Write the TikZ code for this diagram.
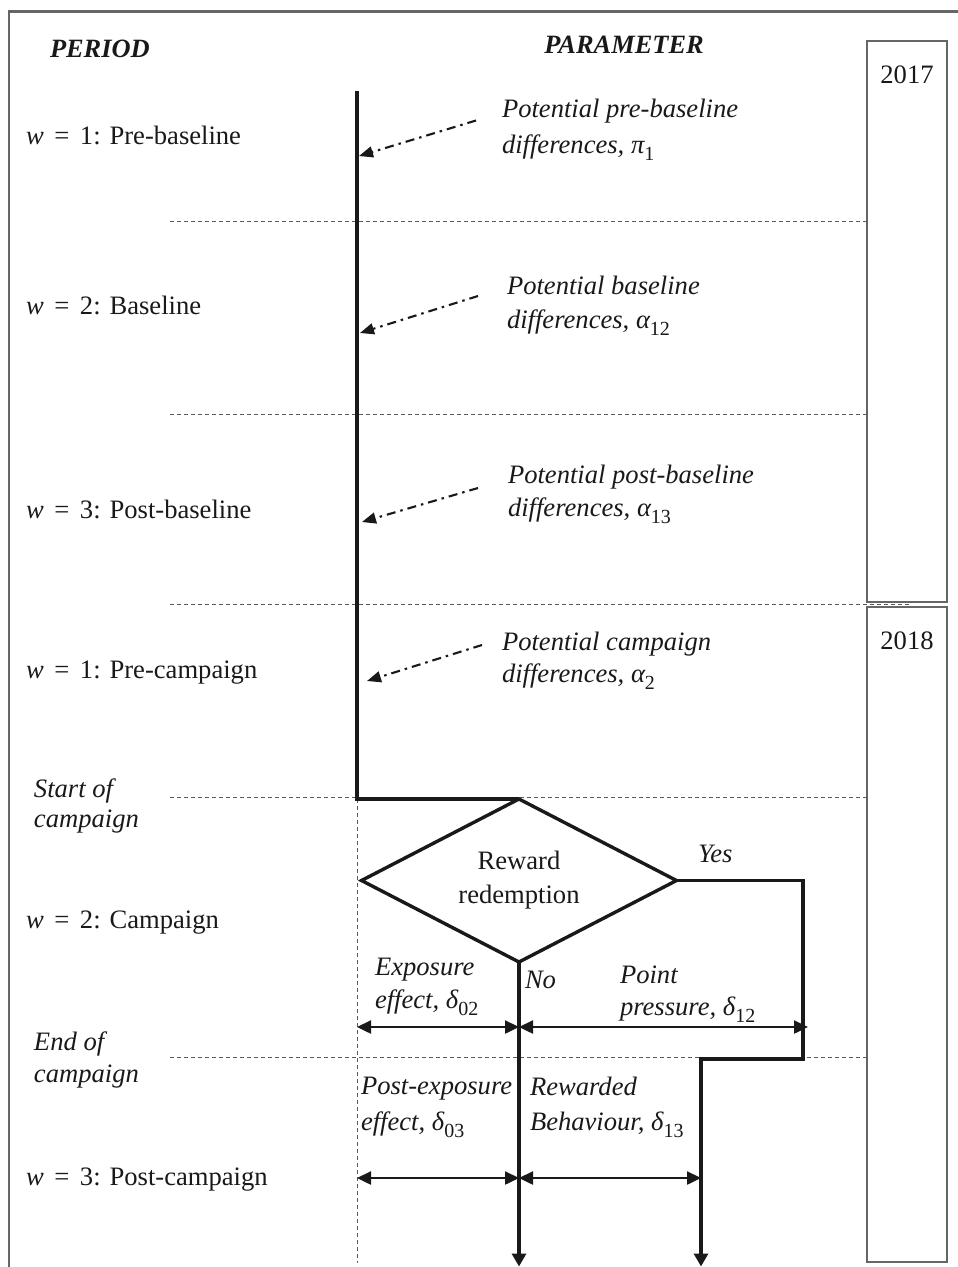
\documentclass[tikz,border=0pt]{standalone}
\usepackage{fontspec}
\setmainfont{Liberation Serif}
\usetikzlibrary{arrows.meta,shapes.geometric}
\newcommand\myeq{\hspace{0.4em}=\hspace{0.4em}}
\newcommand\sbs[1]{\raisebox{-0.3em}{\fontsize{20}{20}\selectfont\upshape #1}}
\begin{document}
\begin{tikzpicture}[x=1pt,y=-1pt,
  every node/.style={inner sep=0pt, outer sep=0pt, font=\fontsize{26.6}{34}\selectfont, text=black!90},
  lbl/.style={anchor=base west},
  itl/.style={anchor=base west, font=\fontsize{26.6}{34}\selectfont\itshape},
  hdr/.style={anchor=base west, font=\fontsize{26.4}{34}\selectfont\bfseries\itshape},
  thickline/.style={line width=3.4pt, draw=black!90, line join=miter},
  dbl/.style={line width=2.4pt, draw=black!90, {Triangle[length=14pt,width=13pt]}-{Triangle[length=14pt,width=13pt]}},
  dd/.style={line width=2.1pt, draw=black!90, dash pattern=on 9pt off 5pt on 2.5pt off 5pt, -{Triangle[length=14pt,width=11pt]}},
  grid/.style={line width=0.9pt, draw=black!65, dash pattern=on 4pt off 3pt},
  ybox/.style={draw=black!60, line width=1.6pt, minimum width=80pt},
  downtip/.style={-{Triangle[length=13pt,width=14pt]}}
]
\useasboundingbox (0,0) rectangle (958,1267);

% frame
\draw[line width=2.2pt, draw=black!60] (9,1267) -- (9,11.5) -- (958,11.5);

% headers
\node[hdr] (hperiod) at (50,57) {PERIOD};
\node[anchor=base, font=\fontsize{26.4}{34}\selectfont\bfseries\itshape] (hparam) at (624,53) {PARAMETER};

% year boxes
\node[ybox, minimum height=561pt] (box17) at (907,321.5) {};
\node[anchor=base] (y17) at (907,83) {2017};
\node[ybox, minimum height=655pt] (box18) at (907,934.5) {};
\node[anchor=base] (y18) at (907,649) {2018};

% dashed period separators
\draw[grid] (170,221) -- (867,221);
\draw[grid] (170,414) -- (867,414);
\draw[grid] (170,604.5) -- (910,604.5);
\draw[grid] (170,797.5) -- (867,797.5);
\draw[grid] (170,1057.5) -- (867,1057.5);
\draw[grid] (357,799) -- (357,1263);

% period labels
\node[lbl] (p1) at (26,144) {\textit{w}\myeq 1: Pre-baseline};
\node[lbl] (p2) at (26,314) {\textit{w}\myeq 2: Baseline};
\node[lbl] (p3) at (26,518) {\textit{w}\myeq 3: Post-baseline};
\node[lbl] (p4) at (26,678) {\textit{w}\myeq 1: Pre-campaign};
\node[itl] (st1) at (34,797) {Start of};
\node[itl] (st2) at (34,827) {campaign};
\node[lbl] (p5) at (26,928) {\textit{w}\myeq 2: Campaign};
\node[itl] (en1) at (34,1050) {End of};
\node[itl] (en2) at (34,1082) {campaign};
\node[lbl] (p6) at (26,1185) {\textit{w}\myeq 3: Post-campaign};

% parameter labels
\node[itl] (r1a) at (502,117) {Potential pre-baseline};
\node[itl] (r1b) at (502,153) {differences, π\sbs{1}};
\node[itl] (r2a) at (507,294) {Potential baseline};
\node[itl] (r2b) at (507,328) {differences, α\sbs{12}};
\node[itl] (r3a) at (508,483) {Potential post-baseline};
\node[itl] (r3b) at (508,516) {differences, α\sbs{13}};
\node[itl] (r4a) at (502,650) {Potential campaign};
\node[itl] (r4b) at (502,682) {differences, α\sbs{2}};

% main timeline
\coordinate (vtop) at (357,90.5);
\coordinate (vcorner) at (357,799);
\node[diamond, thickline, draw, aspect=1.93, minimum width=315pt, minimum height=163pt, align=center] (dia) at (519,880.5) {Reward\\redemption};
\draw[thickline] (vtop) -- (vcorner) -- (dia.north);

% dash-dot arrows
\coordinate (d1s) at (476,120.5); \coordinate (d1e) at (359,156);
\coordinate (d2s) at (478,296);   \coordinate (d2e) at (360,333);
\coordinate (d3s) at (478,488);   \coordinate (d3e) at (362,522);
\coordinate (d4s) at (482,645);   \coordinate (d4e) at (367,681);
\draw[dd] (d1s) -- (d1e);
\draw[dd] (d2s) -- (d2e);
\draw[dd] (d3s) -- (d3e);
\draw[dd] (d4s) -- (d4e);

% branches
\coordinate (yesA) at (803,880.5);
\coordinate (yesB) at (803,1059);
\coordinate (yesC) at (701,1059);
\coordinate (yesEnd) at (701,1266.5);
\coordinate (noEnd) at (519,1266.5);
\draw[thickline, downtip] (dia.east) -- (yesA) -- (yesB) -- (yesC) -- (yesEnd);
\draw[thickline, downtip] (dia.south) -- (noEnd);
\node[itl] (yes) at (698,862) {Yes};
\node[itl] (no) at (525,988) {No};

% effect arrows
\coordinate (a1L) at (357,1027); \coordinate (a1M) at (519,1027); \coordinate (a1R) at (808,1027);
\coordinate (a2L) at (357,1178); \coordinate (a2M) at (519,1178); \coordinate (a2R) at (701,1178);
\draw[dbl] (a1L) -- (a1M);
\draw[dbl] (a1M) -- (a1R);
\draw[dbl] (a2L) -- (a2M);
\draw[dbl] (a2M) -- (a2R);

\node[itl] (ex1) at (375,975) {Exposure};
\node[itl] (ex2) at (375,1008) {effect, δ\sbs{02}};
\node[itl] (pp1) at (620,983) {Point};
\node[itl] (pp2) at (620,1015) {pressure, δ\sbs{12}};
\node[itl] (pe1) at (361,1094) {Post-exposure};
\node[itl] (pe2) at (361,1130) {effect, δ\sbs{03}};
\node[itl] (rb1) at (530,1095) {Rewarded};
\node[itl] (rb2) at (530,1130) {Behaviour, δ\sbs{13}};
\end{tikzpicture}
\end{document}
